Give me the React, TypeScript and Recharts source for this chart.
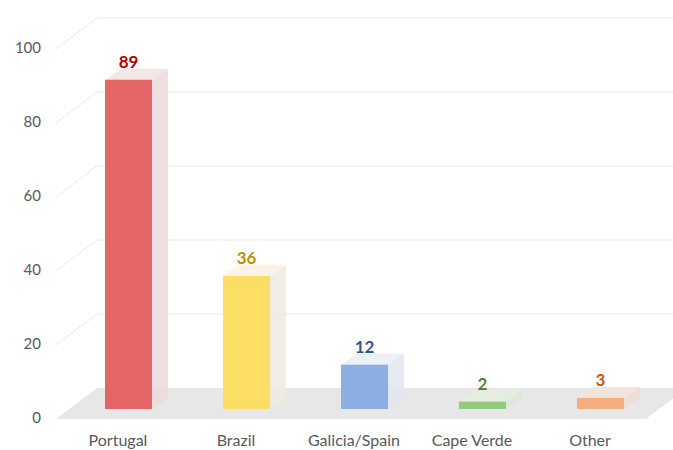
import { BarChart, Bar, XAxis, YAxis, CartesianGrid } from "recharts";

const regions = ["Portugal", "Brazil", "Galicia/Spain", "Cape Verde", "Other"];
const counts = [89, 36, 12, 2, 3];
const yTicks = [0, 20, 40, 60, 80, 100];

const data = regions.map((region, i) => ({ region, count: counts[i] }));

// style
const front = ["#E46565", "#FCDE64", "#8DAEE3", "#93CB7C", "#F5AE7E"];
const side = ["#ECD9DA", "#EFEADF", "#E1E5EE", "#DCE6D8", "#EDDDD5"];
const top = ["#F3E3E3", "#FAF3E4", "#EAEEF6", "#E3EDDD", "#F2E3DB"];
const labelColor = ["#C00000", "#BF9000", "#2F5597", "#538135", "#C55A11"];

const FONT = "Lato, 'Open Sans', sans-serif";
// perspective: back wall offset and bar offset into the floor
const WALL = { dx: 41, dy: -31 };
const INSET = { dx: 13, dy: -10 };
const DEPTH = { dx: 16, dy: -11 };

function GridLine(props: any) {
  const { x1, x2, y1, index } = props;
  const bx = x1 + WALL.dx;
  const by = y1 + WALL.dy;
  if (index === 0) {
    return (
      <g key={props.key}>
        <polygon
          points={`${x1},${y1} ${x2},${y1} ${x2 + WALL.dx},${by} ${bx},${by}`}
          fill="#E7E7E7"
        />
      </g>
    );
  }
  return (
    <g key={props.key}>
      <line x1={x1} y1={y1} x2={bx} y2={by} stroke="#E8E8E8" strokeWidth={1} />
      <line x1={bx} y1={by} x2={x2 + WALL.dx + 40} y2={by} stroke="#E8E8E8" strokeWidth={1} />
    </g>
  );
}

function Box(props: any) {
  const { x, y, width, height, index, value } = props;
  const fx = x + INSET.dx;
  const fy = y + INSET.dy;
  const w = width;
  const h = height;
  const v = Array.isArray(value) ? value[1] : value;
  return (
    <g>
      <polygon
        points={`${fx + w},${fy} ${fx + w + DEPTH.dx},${fy + DEPTH.dy} ${fx + w + DEPTH.dx},${fy + h + DEPTH.dy} ${fx + w},${fy + h}`}
        fill={side[index]}
        fillOpacity={0.85}
      />
      <polygon
        points={`${fx},${fy} ${fx + w},${fy} ${fx + w + DEPTH.dx},${fy + DEPTH.dy} ${fx + DEPTH.dx},${fy + DEPTH.dy}`}
        fill={top[index]}
        fillOpacity={0.9}
      />
      <rect x={fx} y={fy} width={w} height={h} fill={front[index]} />
      <text
        x={fx + w / 2}
        y={fy - 12}
        textAnchor="middle"
        fill={labelColor[index]}
        fontFamily={FONT}
        fontWeight={700}
        fontSize={17}
      >
        {v}
      </text>
    </g>
  );
}

export default function App() {
  return (
    <div style={{ position: "absolute", left: 0, top: 0, width: 673, height: 450, background: "#fff" }}>
      <BarChart
        width={673}
        height={450}
        data={data}
        margin={{ top: 49, right: 27, bottom: 1, left: 0 }}
        barSize={47}
      >
        <CartesianGrid vertical={false} horizontal={GridLine} />
        <XAxis
          dataKey="region"
          axisLine={false}
          tickLine={false}
          height={30}
          tickMargin={10}
          tick={{ fill: "#595959", fontSize: 16, fontFamily: FONT, dx: 3 }}
          interval={0}
        />
        <YAxis
          domain={[0, 100]}
          ticks={yTicks}
          width={56}
          axisLine={false}
          tickLine={false}
          tickMargin={9}
          tick={{ fill: "#595959", fontSize: 15, fontFamily: FONT, dy: -1 }}
        />
        <Bar dataKey="count" shape={Box} isAnimationActive={false} />
      </BarChart>
    </div>
  );
}
